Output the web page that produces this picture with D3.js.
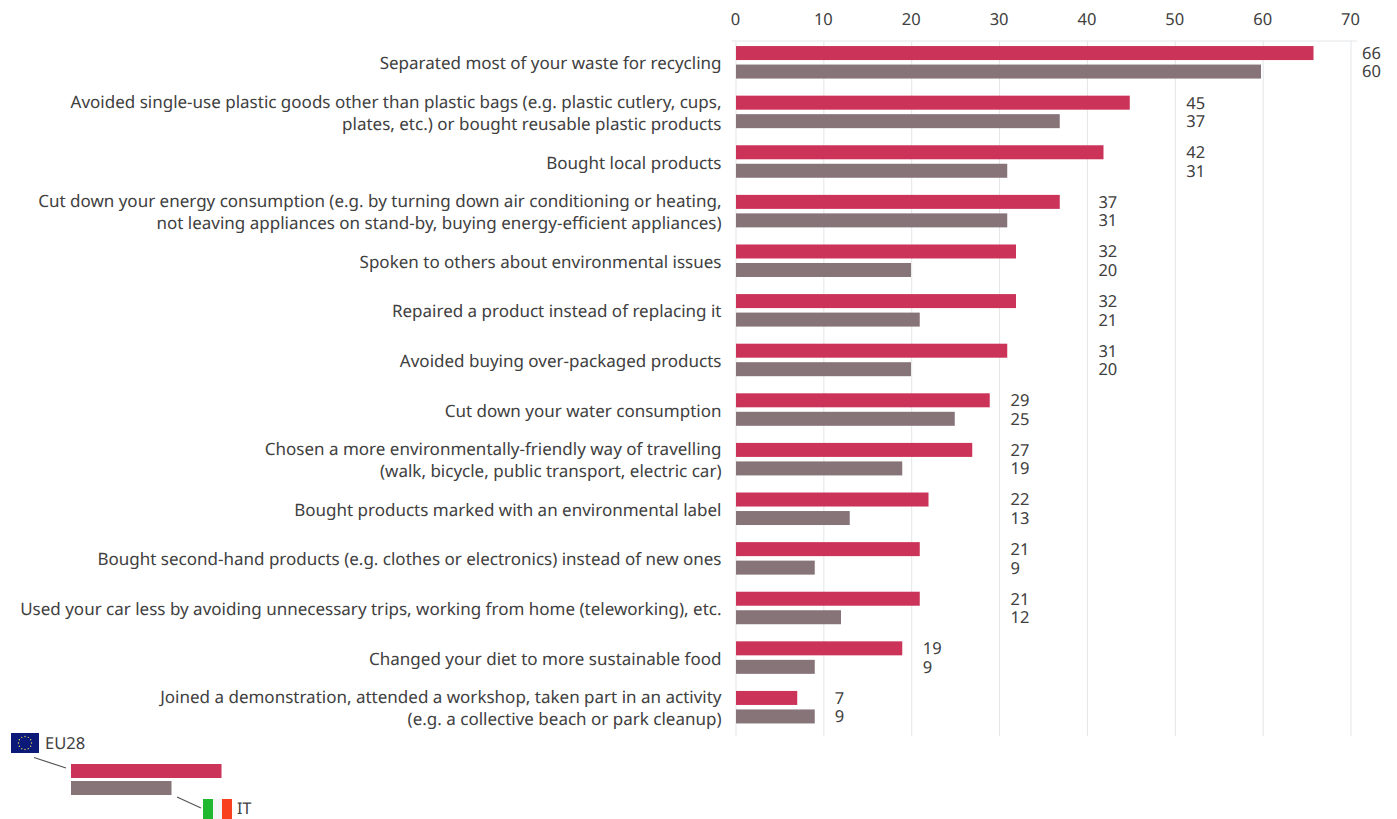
<!DOCTYPE html>
<html>
<head>
<meta charset="utf-8">
<script src="https://cdn.jsdelivr.net/npm/d3@7"></script>
<style>
html,body{margin:0;padding:0;background:#fff;}
svg{display:block;}
text{font-family:"Noto Sans",sans-serif;fill:#404040;text-rendering:geometricPrecision;}
</style>
</head>
<body>
<svg id="chart" width="1397" height="819"></svg>
<script>
const actionLines = [
  ["Separated most of your waste for recycling"],
  ["Avoided single-use plastic goods other than plastic bags (e.g. plastic cutlery, cups,","plates, etc.) or bought reusable plastic products"],
  ["Bought local products"],
  ["Cut down your energy consumption (e.g. by turning down air conditioning or heating,","not leaving appliances on stand-by, buying energy-efficient appliances)"],
  ["Spoken to others about environmental issues"],
  ["Repaired a product instead of replacing it"],
  ["Avoided buying over-packaged products"],
  ["Cut down your water consumption"],
  ["Chosen a more environmentally-friendly way of travelling","(walk, bicycle, public transport, electric car)"],
  ["Bought products marked with an environmental label"],
  ["Bought second-hand products (e.g. clothes or electronics) instead of new ones"],
  ["Used your car less by avoiding unnecessary trips, working from home (teleworking), etc."],
  ["Changed your diet to more sustainable food"],
  ["Joined a demonstration, attended a workshop, taken part in an activity","(e.g. a collective beach or park cleanup)"]
];
const eu28Values = [66,45,42,37,32,32,31,29,27,22,21,21,19,7];
const italyValues = [60,37,31,31,20,21,20,25,19,13,9,12,9,9];
const tickValues = [0,10,20,30,40,50,60,70];

const RED = "#cc3358", GREY = "#877479", INK = "#404040", GRID = "#e3e5e8";
const LABEL_SIZE = 17, NUM_SIZE = 16.5;

const svg = d3.select("#chart");
const x = d3.scaleLinear().domain([0,70]).range([736,1351]);
// Bars run on a very slightly tighter scale than the gridlines
const barX = d3.scaleLinear().domain([0,70]).range([736,1348.5]);
const rows = d3.scaleBand().domain(d3.range(actionLines.length)).range([37.5,732]);
const barH = 14, barGap = 4.5;
const rowMid = i => rows(i) + rows.bandwidth()/2;

// Value axis along the top, with gridlines running down the plot
const axis = d3.axisTop(x).tickValues(tickValues).tickSize(0).tickPadding(16);
const axisG = svg.append("g").attr("transform","translate(0,41)").call(axis);
axisG.select(".domain").remove();
axisG.selectAll("text").attr("font-size",NUM_SIZE).attr("fill",INK).attr("dx",-1).style("font-family",'"Noto Sans",sans-serif');

svg.append("g").selectAll("line").data(tickValues).join("line")
  .attr("x1",d=>x(d)).attr("x2",d=>x(d)).attr("y1",41).attr("y2",736)
  .attr("stroke",GRID).attr("stroke-width",1);
svg.append("line").attr("x1",732).attr("x2",1357).attr("y1",41).attr("y2",41)
  .attr("stroke",GRID).attr("stroke-width",1);

// Paired bars for each action
const rowG = svg.append("g").selectAll("g").data(actionLines).join("g");
rowG.append("rect").attr("x",barX(0)).attr("y",(d,i)=>rowMid(i)-barGap/2-barH)
  .attr("width",(d,i)=>barX(eu28Values[i])-barX(0)).attr("height",barH).attr("fill",RED);
rowG.append("rect").attr("x",barX(0)).attr("y",(d,i)=>rowMid(i)+barGap/2)
  .attr("width",(d,i)=>barX(italyValues[i])-barX(0)).attr("height",barH).attr("fill",GREY);

// Value labels sit just past the next gridline beyond the longer bar
const labelX = i => x(Math.ceil(Math.max(eu28Values[i],italyValues[i])/10)*10) + 11;
rowG.append("text").attr("x",(d,i)=>labelX(i)).attr("y",(d,i)=>rowMid(i)-barGap/2-barH/2)
  .attr("dy","0.36em").attr("font-size",NUM_SIZE).text((d,i)=>eu28Values[i]);
rowG.append("text").attr("x",(d,i)=>labelX(i)).attr("y",(d,i)=>rowMid(i)+barGap/2+barH/2)
  .attr("dy","0.36em").attr("font-size",NUM_SIZE).text((d,i)=>italyValues[i]);

// Right-aligned category text, one or two lines
rowG.each(function(lines,i){
  const g = d3.select(this);
  const lineH = 22;
  const top = rowMid(i) + 1 - (lines.length-1)*lineH/2;
  lines.forEach((t,j)=>{
    g.append("text").attr("x",721.5).attr("y",top+j*lineH).attr("dy","0.36em")
      .attr("text-anchor","end").attr("font-size",LABEL_SIZE).text(t);
  });
});

// Legend: sample bars with leader lines and flags
const legend = svg.append("g");
legend.append("rect").attr("x",71).attr("y",764).attr("width",150.5).attr("height",14).attr("fill",RED);
legend.append("rect").attr("x",71).attr("y",781).attr("width",100.5).attr("height",14).attr("fill",GREY);
legend.append("line").attr("x1",34).attr("y1",757.5).attr("x2",66).attr("y2",768).attr("stroke","#555").attr("stroke-width",1.2);
legend.append("line").attr("x1",177).attr("y1",797).attr("x2",201).attr("y2",808).attr("stroke","#555").attr("stroke-width",1.2);

legend.append("rect").attr("x",11).attr("y",733).attr("width",28).attr("height",20).attr("fill","#0b1a78");
legend.append("g").selectAll("circle").data(d3.range(12)).join("circle")
  .attr("cx",d=>25+6.5*Math.cos(d*Math.PI/6)).attr("cy",d=>743+6.5*Math.sin(d*Math.PI/6))
  .attr("r",0.7).attr("fill","#e9d95a");
legend.append("text").attr("x",45).attr("y",743).attr("dy","0.36em").attr("font-size",NUM_SIZE).text("EU28");

[["#1fb82e",203,10],["#f4f4f4",213,9],["#f8401f",222,10]].forEach(([c,fx,w])=>{
  legend.append("rect").attr("x",fx).attr("y",799).attr("width",w).attr("height",20).attr("fill",c);
});
legend.append("text").attr("x",237).attr("y",808.5).attr("dy","0.36em").attr("font-size",16).text("IT");
</script>
</body>
</html>
